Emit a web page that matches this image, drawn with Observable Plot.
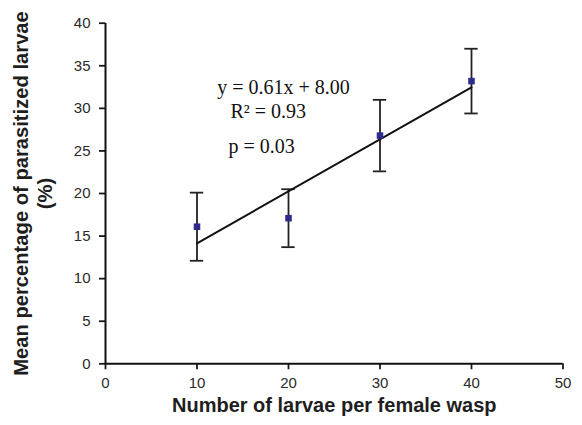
<!DOCTYPE html>
<html>
<head>
<meta charset="utf-8">
<script src="https://cdn.jsdelivr.net/npm/d3@7"></script>
<script src="https://cdn.jsdelivr.net/npm/@observablehq/plot@0.6"></script>
<style>
  body { margin: 0; background: #fff; }
  #chart svg { display: block; }
</style>
</head>
<body>
<div id="chart"></div>
<script>
// Data
const larvae = [10, 20, 30, 40];
const meanPct = [16.1, 17.1, 26.8, 33.2];
const errPct = [4.0, 3.4, 4.2, 3.8];
const xTicks = [0, 10, 20, 30, 40, 50];
const yTicks = [0, 5, 10, 15, 20, 25, 30, 35, 40];
const annotations = ["y = 0.61x + 8.00", "R² = 0.93", "p = 0.03"];
const annoX = [12.2, 13.66, 13.44];
const annoY = [31.74, 28.81, 24.7];
const xLabel = "Number of larvae per female wasp";
const yLabel1 = "Mean percentage of parasitized larvae";
const yLabel2 = "(%)";

const data = larvae.map((x, i) => ({x, y: meanPct[i], e: errPct[i]}));
const anno = annotations.map((t, i) => ({t, x: annoX[i], y: annoY[i]}));
const capHalf = 0.73;
const sans = "'Liberation Sans', Arial, sans-serif";

const plot = Plot.plot({
  width: 582,
  height: 425,
  marginLeft: 105,
  marginRight: 19.5,
  marginTop: 22.7,
  marginBottom: 61.7,
  style: "font-family: 'Liberation Sans', Arial, sans-serif; font-size: 15px; background: #fff; overflow: visible;",
  x: {domain: [0, 50], ticks: xTicks},
  y: {domain: [0, 40], ticks: yTicks},
  marks: [
    Plot.axisX({ticks: xTicks, tickSize: 6, tickFormat: () => "", label: null, color: "#1a1a1a", strokeWidth: 1.8}),
    Plot.axisY({ticks: yTicks, tickSize: 6, tickFormat: () => "", label: null, color: "#1a1a1a", strokeWidth: 1.8}),
    Plot.text(xTicks, {x: d => d, text: d => String(d), frameAnchor: "bottom", lineAnchor: "middle", dy: 19.5, fontSize: 15, fontFamily: sans, fill: "#2a2a2a"}),
    Plot.text(yTicks, {y: d => d, text: d => String(d), frameAnchor: "left", textAnchor: "end", dx: -15, fontSize: 15, fontFamily: sans, fill: "#2a2a2a"}),
    Plot.ruleY([0], {stroke: "#111", strokeWidth: 2}),
    Plot.ruleX([0], {stroke: "#111", strokeWidth: 2}),
    Plot.ruleX(data, {x: "x", y1: d => d.y - d.e, y2: d => d.y + d.e, stroke: "#222", strokeWidth: 1.8}),
    Plot.ruleY(data, {y: d => d.y + d.e, x1: d => d.x - capHalf, x2: d => d.x + capHalf, stroke: "#222", strokeWidth: 1.8}),
    Plot.ruleY(data, {y: d => d.y - d.e, x1: d => d.x - capHalf, x2: d => d.x + capHalf, stroke: "#222", strokeWidth: 1.8}),
    Plot.linearRegressionY(data, {x: "x", y: "y", ci: 0, stroke: "#111", strokeWidth: 2}),
    Plot.dot(data, {x: "x", y: "y", symbol: "square", r: 3.7, fill: "#2f2a8c", stroke: "none"}),
    Plot.text(anno, {x: "x", y: "y", text: "t", textAnchor: "start", lineAnchor: "bottom", fontFamily: "Liberation Serif, Times New Roman, serif", fontSize: 20, fill: "#111"}),
    Plot.text([xLabel], {frameAnchor: "bottom", dy: 48.5, fontSize: 20, fontWeight: "bold", fontFamily: sans, fill: "#1e1e1e"}),
    Plot.text([yLabel1], {frameAnchor: "left", textAnchor: "middle", rotate: -90, dx: -84, fontSize: 20.2, fontWeight: "bold", fontFamily: sans, fill: "#1e1e1e"}),
    Plot.text([yLabel2], {frameAnchor: "left", textAnchor: "middle", rotate: -90, dx: -60, fontSize: 20.2, fontWeight: "bold", fontFamily: sans, fill: "#1e1e1e"})
  ]
});
document.getElementById("chart").appendChild(plot);
</script>
</body>
</html>
